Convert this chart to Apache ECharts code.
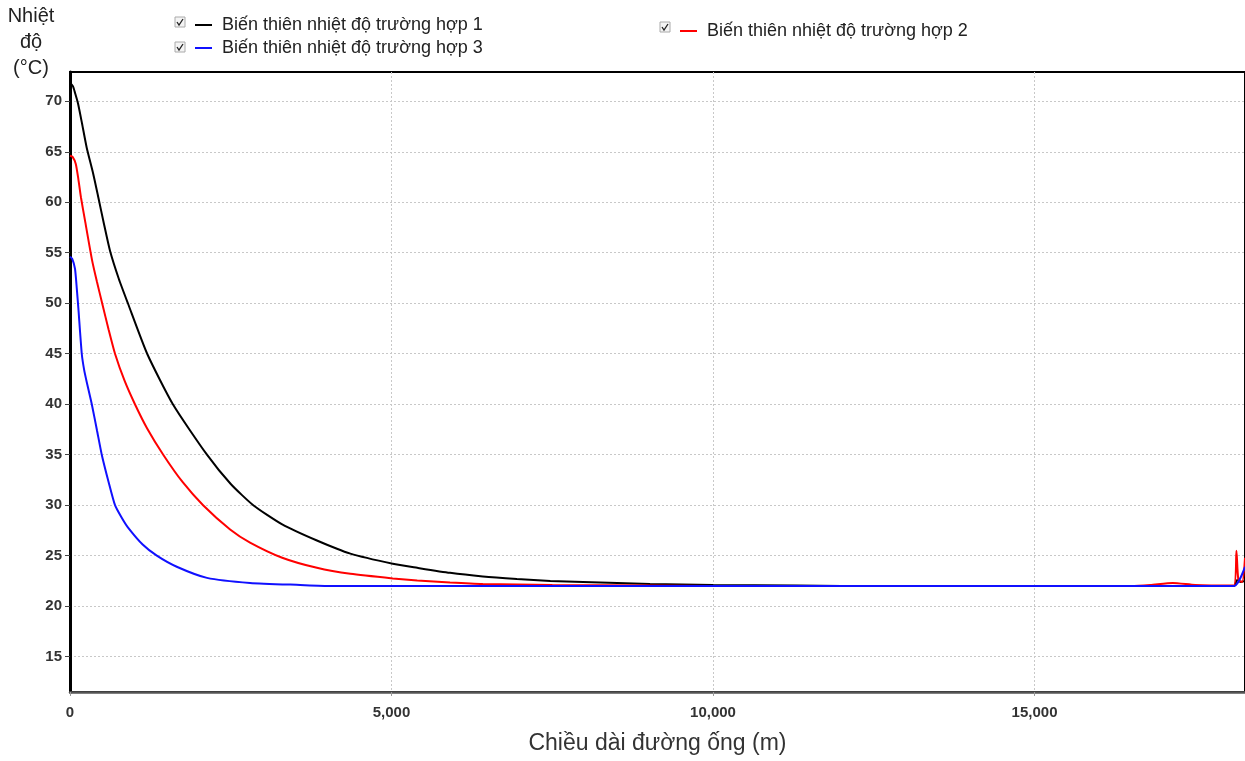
<!DOCTYPE html>
<html>
<head>
<meta charset="utf-8">
<script src="https://cdn.jsdelivr.net/npm/echarts@6/dist/echarts.min.js"></script>
<style>
  html, body { margin: 0; padding: 0; background: #fff; }
  #chart { width: 1245px; height: 761px; }
</style>
</head>
<body>
<div id="chart"></div>
<script>
// ten series (gia tri doc tu hinh)
var seriesNames = ['Biến thiên nhiệt độ trường hợp 1', 'Biến thiên nhiệt độ trường hợp 2', 'Biến thiên nhiệt độ trường hợp 3'];

// truong hop 1 (den)
var dist1 = [0, 45, 80, 124, 187, 260, 358, 440, 530, 622, 760, 900, 1200, 1600, 2130, 2500, 2850, 3300, 3840, 4360, 5020, 5400, 5910, 6420, 6950, 7470, 7980, 8510, 9020, 10000, 11300, 12000, 18100, 18150, 18200, 18273];
var temp1 = [71.8, 71.5, 70.8, 69.8, 67.8, 65.4, 62.9, 60.5, 57.8, 55.2, 52.4, 50, 45, 40, 35, 32.1, 30, 28.1, 26.5, 25.2, 24.2, 23.8, 23.3, 22.95, 22.7, 22.5, 22.4, 22.3, 22.2, 22.1, 22.05, 22, 22, 22.6, 22.4, 22.5];

// truong hop 2 (do)
var dist2 = [0, 40, 90, 130, 170, 233, 342, 420, 500, 600, 700, 850, 1010, 1200, 1450, 1750, 2070, 2490, 2800, 3300, 3840, 4360, 5020, 5400, 5910, 6420, 7500, 9000, 10000, 16500, 16800, 17150, 17500, 18100, 18140, 18170, 18230, 18273];
var temp2 = [64.6, 64.5, 63.8, 62.3, 60.5, 58.2, 54.3, 52.1, 50, 47.4, 45, 42.3, 40, 37.6, 35, 32.3, 30, 27.6, 26.3, 24.8, 23.8, 23.2, 22.75, 22.55, 22.35, 22.2, 22.1, 22.05, 22, 22, 22.1, 22.3, 22.1, 22.05, 25.5, 22.6, 22.4, 24.8];

// truong hop 3 (xanh)
var dist3 = [0, 35, 78, 105, 130, 183, 220, 260, 339, 420, 494, 600, 700, 800, 900, 1130, 1350, 1660, 2130, 2800, 3580, 4050, 18100, 18273];
var temp3 = [54.6, 54.4, 53.4, 51.5, 49.5, 45, 43.4, 42.2, 40, 37.4, 35, 32.3, 30, 28.8, 27.8, 26.1, 25, 23.9, 22.8, 22.3, 22.1, 22, 22, 23.9];

var yTicks = [15, 20, 25, 30, 35, 40, 45, 50, 55, 60, 65, 70];
var xMax = 18273;

function pairs(xs, ys) {
  return xs.map(function (x, i) { return [x, ys[i]]; });
}

var chart = echarts.init(document.getElementById('chart'));
var labelFont = { color: '#333', fontSize: 15, fontWeight: 'bold', fontFamily: 'Liberation Sans' };
var legendText = { color: '#222', fontSize: 18, fontFamily: 'Liberation Sans', padding: [0, 0, 0, 5] };

function checkbox(x, y) {
  return {
    type: 'group', x: x, y: y,
    children: [
      { type: 'rect', shape: { x: 0, y: 0, width: 10, height: 10 }, style: { fill: '#f4f4f4', stroke: '#aaa', lineWidth: 1 } },
      { type: 'polyline', shape: { points: [[2, 5], [4, 8], [8, 2]] }, style: { stroke: '#222', lineWidth: 1.3, fill: null } }
    ]
  };
}

var option = {
  animation: false,
  color: ['#000000', '#ff0000', '#1010ff'],
  grid: { left: 70, right: 0, top: 72, bottom: 69, show: true, borderColor: '#000', borderWidth: 2 },
  legend: [{
    data: [seriesNames[0], seriesNames[2]],
    orient: 'vertical', left: 190, top: 11, itemGap: 5,
    icon: 'rect', itemWidth: 17, itemHeight: 2,
    textStyle: legendText
  }, {
    data: [seriesNames[1]],
    orient: 'vertical', left: 675, top: 17,
    icon: 'rect', itemWidth: 17, itemHeight: 2,
    textStyle: legendText
  }],
  graphic: [
    { type: 'text', x: 31, y: 16, style: { text: 'Nhiệt', fill: '#222', font: '20px "Liberation Sans"', align: 'center', verticalAlign: 'middle' } },
    { type: 'text', x: 31, y: 42, style: { text: 'độ', fill: '#222', font: '20px "Liberation Sans"', align: 'center', verticalAlign: 'middle' } },
    { type: 'text', x: 31, y: 68, style: { text: '(°C)', fill: '#222', font: '20px "Liberation Sans"', align: 'center', verticalAlign: 'middle' } },
    checkbox(175, 17),
    checkbox(175, 42),
    checkbox(660, 22)
  ],
  xAxis: {
    type: 'value', min: 0, max: xMax, interval: 5000,
    name: 'Chiều dài đường ống (m)', nameLocation: 'middle', nameGap: 40,
    nameTextStyle: { color: '#333', fontSize: 23, fontFamily: 'Liberation Sans' },
    axisLine: { onZero: false, lineStyle: { color: '#555', width: 2.5 } },
    axisTick: { show: true, length: 4, lineStyle: { color: '#999' } },
    axisLabel: Object.assign({ margin: 13, showMaxLabel: false, formatter: function (v) { return v.toLocaleString('en-US'); } }, labelFont),
    splitLine: { show: true, lineStyle: { color: '#c8c8c8', type: [2, 2], width: 1 } }
  },
  yAxis: {
    type: 'value', min: 11.5, max: 72.9,
    axisLine: { show: true, onZero: false, lineStyle: { color: '#000', width: 3 } },
    axisTick: { show: true, length: 5, customValues: yTicks, lineStyle: { color: '#444' } },
    axisLabel: Object.assign({ margin: 8, customValues: yTicks }, labelFont),
    splitLine: { show: true, lineStyle: { color: '#c8c8c8', type: [2, 2], width: 1 } }
  },
  series: [0, 1, 2].map(function (i) {
    var d = [pairs(dist1, temp1), pairs(dist2, temp2), pairs(dist3, temp3)][i];
    return {
      name: seriesNames[i], type: 'line', data: d,
      showSymbol: false, smooth: 0.2,
      lineStyle: { width: 2 }
    };
  })
};
chart.setOption(option);
</script>
</body>
</html>
